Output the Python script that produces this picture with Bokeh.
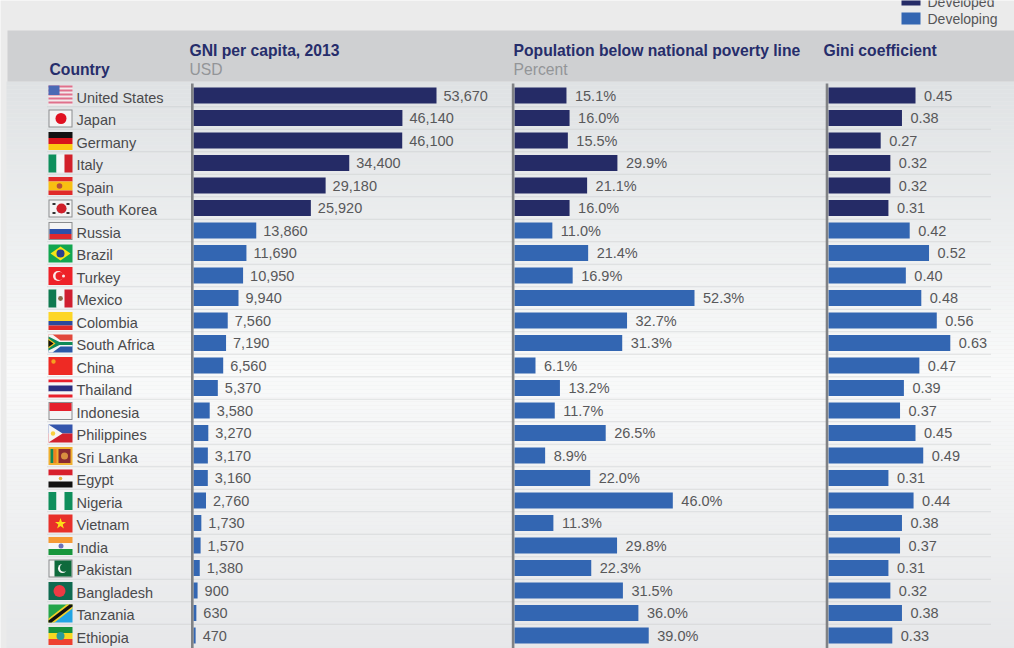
from bokeh.embed import file_html
from bokeh.resources import INLINE
from bokeh.plotting import figure
from bokeh.models import Range1d, ColumnDataSource
from bokeh.core.properties import value

countries = ["United States", "Japan", "Germany", "Italy", "Spain", "South Korea", "Russia", "Brazil",
             "Turkey", "Mexico", "Colombia", "South Africa", "China", "Thailand", "Indonesia", "Philippines",
             "Sri Lanka", "Egypt", "Nigeria", "Vietnam", "India", "Pakistan", "Bangladesh", "Tanzania", "Ethiopia"]
group = ["Developed"] * 6 + ["Developing"] * 19
gni = [53670, 46140, 46100, 34400, 29180, 25920, 13860, 11690, 10950, 9940, 7560, 7190, 6560, 5370, 3580,
       3270, 3170, 3160, 2760, 1730, 1570, 1380, 900, 630, 470]
poverty = [15.1, 16.0, 15.5, 29.9, 21.1, 16.0, 11.0, 21.4, 16.9, 52.3, 32.7, 31.3, 6.1, 13.2, 11.7,
           26.5, 8.9, 22.0, 46.0, 11.3, 29.8, 22.3, 31.5, 36.0, 39.0]
gini = [0.45, 0.38, 0.27, 0.32, 0.32, 0.31, 0.42, 0.52, 0.40, 0.48, 0.56, 0.63, 0.47, 0.39, 0.37,
        0.45, 0.49, 0.31, 0.44, 0.38, 0.37, 0.31, 0.32, 0.38, 0.33]

W, H = 1014, 648
DX, DY = 1, 1   # alignment of the layout coordinates with the frame
FONT = value("Liberation Sans")
DARK, BLUE, NAVY = "#252b66", "#3366b2", "#262d6b"
ROW0, PITCH = 96.0, 22.5
colors = [DARK if g == "Developed" else BLUE for g in group]

p = figure(width=W, height=H, output_backend="svg", toolbar_location=None, margin=0,
           x_range=Range1d(DX, W + DX), y_range=Range1d((H + DY - ROW0) / PITCH, (DY - ROW0) / PITCH),
           min_border=0, background_fill_color="#ebebeb", border_fill_color="#ebebeb", outline_line_color=None)
p.axis.visible = False
p.grid.visible = False

p.extra_y_ranges["px"] = Range1d(H + DY, DY)

def add_scale(name, x0, x1, v1):
    k = (x1 - x0) / v1
    p.extra_x_ranges[name] = Range1d((DX - x0) / k, (W + DX - x0) / k)

add_scale("gni", 194, 437, 53670)
add_scale("pov", 515, 695, 52.3)
add_scale("gin", 829, 916, 0.45)

# background gradient of the table panel
stops = [(82, (223, 226, 228)), (370, (249, 250, 250)), (652, (230, 231, 233))]
gy0, gy1, gc = [], [], []
for y in range(82, 652, 4):
    for (a, ca), (b, cb) in zip(stops, stops[1:]):
        if a <= y <= b:
            t = (y - a) / (b - a)
            c = tuple(round(u + (v - u) * t) for u, v in zip(ca, cb))
    gy0.append(y); gy1.append(y + 4); gc.append("#%02x%02x%02x" % c)
p.quad(left=7, right=W + DX, bottom=gy1, top=gy0, color=gc, line_color=None, y_range_name="px")
p.quad(left=8, right=W + DX, bottom=82, top=31, color="#cfd0d2", line_color=None, y_range_name="px")

# row separators
rows = list(range(len(countries)))
p.segment(x0=48, x1=992, y0=[r + 0.5 for r in rows[:-1]], y1=[r + 0.5 for r in rows[:-1]],
          line_color="#c4c6c8", line_width=1, line_dash="1 1")

# flags, in a 24x18 box
shapes = {"q": [], "e": [], "s": []}

def flag(i, *items):
    x0 = 49
    y0 = ROW0 + i * PITCH - 8.5
    for it in items:
        kind = it[0]
        if kind == "r":
            _, a, b, c, d, col = it
            shapes["q"].append((x0 + a, x0 + c, y0 + b, y0 + d, col))
        elif kind == "c":
            _, a, b, r, col = it
            shapes["e"].append((x0 + a, y0 + b, 2 * r, col))
        else:
            _, pts, col = it
            shapes["s"].append(([x0 + u for u, _v in pts], [y0 + v for _u, v in pts], col))

def box(col="#8a8c8e", fill="#f4f4f4"):
    return [("r", 0, 0, 24, 18, col), ("r", 1, 1, 23, 17, fill)]

def hstripes(*cols_h):
    out, y = [], 0
    for col, h in cols_h:
        out.append(("r", 0, y, 24, y + h, col)); y += h
    return out

def vstripes(*cols_w):
    out, x = [], 0
    for col, w in cols_w:
        out.append(("r", x, 0, x + w, 18, col)); x += w
    return out

us = [("r", 0, -1.5, 24, 18.5, "#f3eaec")]
for k in range(0, 10, 2):
    us.append(("r", 0, -1.5 + k * 2, 24, -1.5 + k * 2 + 2, "#e0708c"))
us.append(("r", 0, -1.5, 11, 8, "#4a69b5"))
flag(0, *us)
flag(1, *box(), ("c", 12.5, 9, 5.5, "#e01020"))
flag(2, *hstripes(("#111111", 6), ("#d8141c", 6), ("#fcc812", 6)))
flag(3, *vstripes(("#0f8f5c", 8), ("#f6f6f6", 8), ("#d2202a", 8)))
flag(4, *hstripes(("#e02a2a", 4.5), ("#f8bf12", 9), ("#e02a2a", 4.5)), ("c", 11, 9, 2.8, "#b6503a"))
flag(5, *box(), ("c", 13, 9, 5, "#d0202a"), ("s", [(8, 9), (18, 9), (16, 13), (10, 13)], "#1d4a9c"),
     ("r", 4, 3.5, 7, 5.5, "#333333"), ("r", 18, 3.5, 21, 5.5, "#333333"),
     ("r", 4, 12.5, 7, 14.5, "#333333"), ("r", 18, 12.5, 21, 14.5, "#333333"))
flag(6, *box(), ("r", 1, 7, 23, 12, "#2d50a8"), ("r", 1, 12, 23, 17, "#e0282c"))
flag(7, ("r", 0, 0, 24, 18, "#12a650"), ("s", [(2, 9), (12, 2), (22, 9), (12, 16)], "#f6e417"),
     ("c", 12, 9, 4, "#2a3f8f"))
flag(8, ("r", 0, 0, 24, 18, "#ee2128"), ("c", 9.5, 9, 5, "#fbeaea"), ("c", 11, 9, 4, "#ee2128"),
     ("c", 15, 9, 1.5, "#fbeaea"))
flag(9, *vstripes(("#0f7a50", 8), ("#f6f6f6", 8), ("#d01f30", 8)), ("c", 12, 9, 2.4, "#8a6a4a"))
flag(10, *hstripes(("#fdd626", 9), ("#2b4a9c", 4.5), ("#e02a2a", 4.5)))
flag(11, ("r", 0, 0, 24, 9, "#e2483c"), ("r", 0, 9, 24, 18, "#2b58a8"),
     ("s", [(0, 0), (4, 0), (12, 6), (24, 6), (24, 12), (12, 12), (4, 18), (0, 18)], "#f4f4f4"),
     ("s", [(0, 2), (11, 7.5), (24, 7.5), (24, 10.5), (11, 10.5), (0, 16)], "#108a58"),
     ("s", [(0, 4), (7, 9), (0, 14)], "#f8c020"),
     ("s", [(0, 5.5), (5, 9), (0, 12.5)], "#111111"))
flag(12, ("r", 0, 0, 24, 18, "#ee2a24"), ("c", 5, 4.5, 2.2, "#f5a020"))
flag(13, *hstripes(("#e8202c", 3), ("#f6f6f6", 3), ("#2a2f80", 6), ("#f6f6f6", 3), ("#e8202c", 3)))
flag(14, *box(), ("r", 1, 1, 23, 9, "#e5202c"))
flag(15, ("r", 0, 0, 24, 9, "#3455ac"), ("r", 0, 9, 24, 18, "#d2202e"),
     ("s", [(0, 0), (14, 9), (0, 18)], "#f6f6f6"), ("c", 4.5, 9, 2.2, "#f8d040"))
flag(16, ("r", 0, 0, 24, 18, "#f0b030"), ("r", 2, 2, 5, 16, "#108a58"), ("r", 5, 2, 8, 16, "#ee8020"),
     ("r", 10, 2, 22, 16, "#8a2a30"), ("c", 16, 9, 3.5, "#d89040"))
flag(17, *hstripes(("#d8202c", 6), ("#f6f6f6", 6), ("#111111", 6)), ("c", 12, 9, 1.8, "#e8b040"))
flag(18, *vstripes(("#0f8f5c", 8), ("#f6f6f6", 8), ("#0f8f5c", 8)))
flag(19, ("r", 0, 0, 24, 18, "#e8302a"),
     ("s", [(12, 3.5), (13.4, 7.5), (17.5, 7.6), (14.2, 10), (15.4, 14), (12, 11.6), (8.6, 14), (9.8, 10),
            (6.5, 7.6), (10.6, 7.5)], "#fbe018"))
flag(20, *hstripes(("#f59a34", 6), ("#f6f6f6", 6), ("#17963c", 6)), ("c", 12.5, 9, 2.5, "#6a70b8"))
flag(21, *box(), ("r", 6, 1, 23, 17, "#0e6a3c"), ("c", 14, 9, 4.5, "#f4f4f4"), ("c", 15.5, 8.2, 4, "#0e6a3c"))
flag(22, ("r", 0, 0, 24, 18, "#0f6a50"), ("c", 11, 9, 6, "#ee3a44"))
flag(23, ("s", [(0, 0), (24, 0), (0, 18)], "#24a54a"), ("s", [(24, 0), (24, 18), (0, 18)], "#22a4e4"),
     ("s", [(0, 14), (18, 0), (24, 0), (24, 4), (6, 18), (0, 18)], "#f2d02a"),
     ("s", [(0, 16), (21, 0), (24, 0), (24, 2), (3, 18), (0, 18)], "#111111"))
flag(24, *hstripes(("#17913c", 6), ("#f6d820", 6), ("#ee4030", 6)), ("c", 12, 9, 4, "#2a9a9a"))

qq = shapes["q"]
p.quad(left=[a[0] for a in qq], right=[a[1] for a in qq], top=[a[2] for a in qq], bottom=[a[3] for a in qq],
       color=[a[4] for a in qq], line_color=None, y_range_name="px")
ss = shapes["s"]
p.patches(xs=[a[0] for a in ss], ys=[a[1] for a in ss], color=[a[2] for a in ss], line_color=None, y_range_name="px")
ee = shapes["e"]
p.ellipse(x=[a[0] for a in ee], y=[a[1] for a in ee], width=[a[2] for a in ee], height=[a[2] for a in ee],
          width_units="screen", height_units="screen", color=[a[3] for a in ee], line_color=None, y_range_name="px")

# country names
p.text(x=77, y=[r + 0.093 for r in rows], text=countries, text_font=FONT, text_font_size="14.5px",
       text_color="#4a4a4c", text_baseline="middle")

# bars, baselines, value labels
panels = [("gni", gni, 192.8, 7, [f"{v:,}" for v in gni]),
          ("pov", poverty, 513.6, 8.5, [f"{v:.1f}%" for v in poverty]),
          ("gin", gini, 827.5, 8.5, [f"{v:.2f}" for v in gini])]
for name, vals, base, off, labels in panels:
    src = ColumnDataSource(dict(y=rows, v=vals, c=colors, t=labels))
    p.hbar(y="y", left=0, right="v", height=16 / PITCH, color="c", line_color=None, source=src, x_range_name=name)
    p.text(x="v", y="y", text="t", x_offset=off, text_font=FONT, text_font_size="14.5px", text_color="#58585a",
           text_baseline="middle", source=src, x_range_name=name)
    p.segment(x0=base, x1=base, y0=84, y1=H + DY, line_color="#808285", line_width=2.6, y_range_name="px")

# column headers
headers = [(50, 70, "Country", True), (190, 51, "GNI per capita, 2013", True), (190, 70, "USD", False),
           (514, 51, "Population below national poverty line", True), (514, 70, "Percent", False),
           (824, 51, "Gini coefficient", True)]
for x, y, t, bold in headers:
    p.text(x=[x], y=[y], text=[t], text_font=FONT, text_font_size="15.7px", y_range_name="px",
           text_font_style="bold" if bold else "normal", text_color=NAVY if bold else "#939598",
           text_baseline="middle")

# legend
p.quad(left=902, right=921, top=[-6, 13], bottom=[6, 25], color=[DARK, BLUE], line_color=None, y_range_name="px")
p.text(x=928, y=[2, 19], text=["Developed", "Developing"], text_font=FONT, text_font_size="14px",
       text_color="#555557", text_baseline="middle", y_range_name="px")

open("out.html", "w").write(file_html(p, INLINE))
